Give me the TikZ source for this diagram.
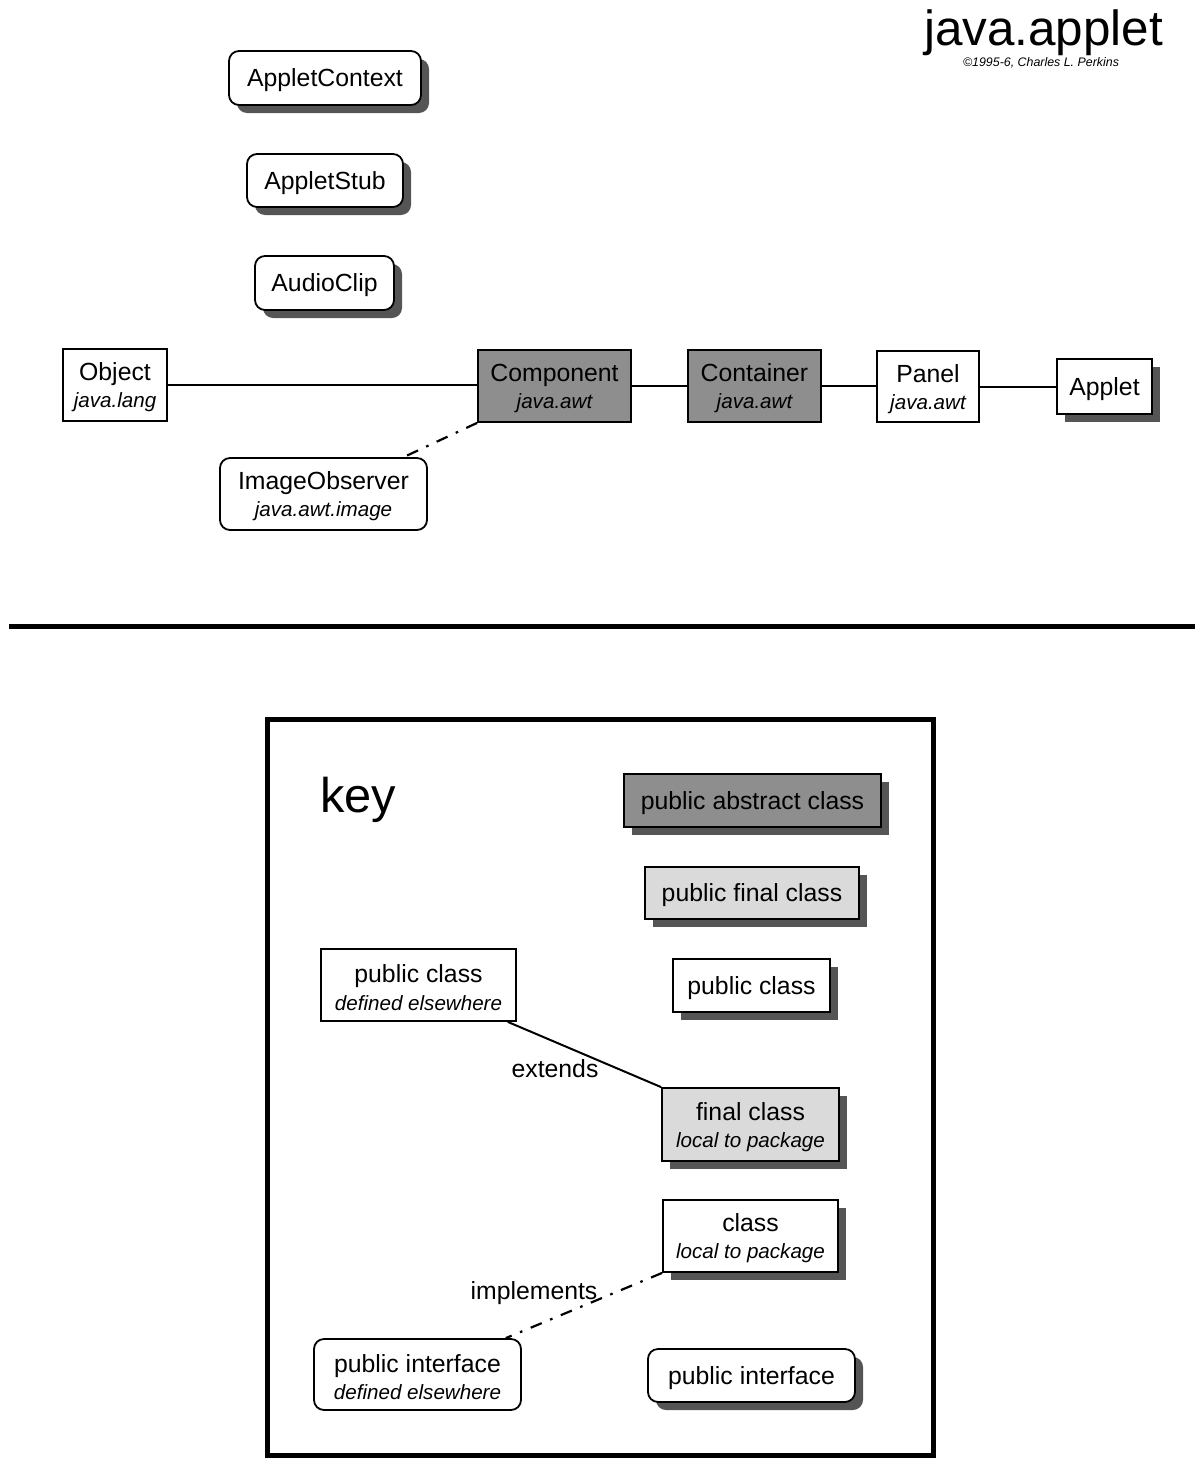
\documentclass[tikz,border=0pt]{standalone}
\usepackage{fontspec}
\setmainfont{Liberation Sans}
\usetikzlibrary{shadows,calc}
\definecolor{darkfill}{HTML}{8E8E8E}
\definecolor{lightfill}{HTML}{DADADA}
\definecolor{shade}{HTML}{555555}
\newcommand\mainfnt{\fontsize{12.4pt}{13.6pt}\selectfont}
\newcommand\subfnt{\fontsize{10.3pt}{13.6pt}\selectfont\itshape}
% strut that lowers box text slightly inside its frame
\newcommand\tstrut{\rule[-2.6pt]{0pt}{14.1pt}}
\tikzset{
  box/.style={draw=black, line width=0.9pt, inner sep=0pt, align=center, font=\mainfnt, text=black},
  cls/.style={box, rectangle},
  iface/.style={box, rounded corners=5pt},
  shadowed/.style={drop shadow={shadow xshift=4pt, shadow yshift=-4pt, fill=shade, opacity=1}},
  abstractfill/.style={fill=darkfill},
  finalfill/.style={fill=lightfill},
  plainfill/.style={fill=white},
  sz/.style n args={2}{minimum width=#1, minimum height=#2},
  link/.style={line width=1pt, draw=black},
  impl/.style={line width=1.1pt, draw=black, dash pattern=on 6pt off 4.5pt on 1.3pt off 4.5pt},
  lbl/.style={font=\mainfnt, inner sep=0pt, text=black}
}
\begin{document}
\begin{tikzpicture}[x=0.5pt, y=-0.5pt]
\useasboundingbox (0,0) rectangle (1200,1467);

% title
\node[font=\fontsize{24.7pt}{26pt}\selectfont, anchor=base, inner sep=0pt] (title) at (1043.5,46) {java.applet};
\node[font=\fontsize{6.2pt}{7pt}\selectfont\itshape, anchor=base, inner sep=0pt] (copy) at (1041,66.5) {\textcopyright 1995-6, Charles L. Perkins};

% interfaces of the package
\node[iface, plainfill, shadowed, sz={96pt}{27pt}] (ctx) at (325,78) {\tstrut AppletContext};
\node[iface, plainfill, shadowed, sz={78pt}{26.5pt}] (stub) at (325,180.5) {\tstrut AppletStub};
\node[iface, plainfill, shadowed, sz={69.5pt}{27pt}] (clip) at (324.5,283) {\tstrut AudioClip};

% class hierarchy
\node[cls, plainfill, sz={52pt}{36pt}] (object) at (115,385) {\tstrut Object\\{\subfnt java.lang}};
\node[cls, abstractfill, sz={76.5pt}{36pt}] (component) at (554.5,386) {\tstrut Component\\{\subfnt java.awt}};
\node[cls, abstractfill, sz={66.5pt}{36pt}] (container) at (754.5,386) {\tstrut Container\\{\subfnt java.awt}};
\node[cls, plainfill, sz={51pt}{35.5pt}] (panel) at (928,386.5) {\tstrut Panel\\{\subfnt java.awt}};
\node[cls, plainfill, shadowed, sz={47.5pt}{27.5pt}] (applet) at (1104.5,386.5) {\tstrut Applet};
\node[iface, plainfill, sz={103.5pt}{36pt}] (imgobs) at (323.5,494) {\tstrut ImageObserver\\{\subfnt java.awt.image}};

\draw[link] (object.east) -- (object.east -| component.west);
\draw[link] (component.east) -- (component.east -| container.west);
\draw[link] (container.east) -- (container.east -| panel.west);
\draw[link] (panel.east) -- (panel.east -| applet.west);
\draw[impl] (component.south west) -- ($(imgobs.north west)!0.884!(imgobs.north east)$);

% separator
\coordinate (sepL) at (9,626);
\coordinate (sepR) at (1195,626);
\draw[line width=2.5pt] (sepL) -- (sepR);

% key
\draw[line width=2.5pt] (267.5,719.5) rectangle (933,1455);
\node[font=\fontsize{24.4pt}{26pt}\selectfont, anchor=base west, inner sep=0pt] (keytitle) at (320,812) {key};

\node[cls, abstractfill, shadowed, sz={128.5pt}{26.5pt}] (kabs) at (752.5,800.5) {\tstrut public abstract class};
\node[cls, finalfill, shadowed, sz={107pt}{26pt}] (kfinal) at (752,893) {\tstrut public final class};
\node[cls, plainfill, shadowed, sz={78.5pt}{26.5pt}] (kpub) at (751.5,985.5) {\tstrut public class};
\node[cls, plainfill, sz={97.5pt}{36pt}] (kpubext) at (418.5,985) {\tstrut public class\\{\subfnt defined elsewhere}};
\node[cls, finalfill, shadowed, sz={88.5pt}{36.5pt}] (kfinloc) at (750.5,1124.5) {\tstrut final class\\{\subfnt local to package}};
\node[cls, plainfill, shadowed, sz={87.5pt}{36pt}] (kclsloc) at (750.5,1236) {\tstrut class\\{\subfnt local to package}};
\node[iface, plainfill, sz={103.5pt}{35.5pt}] (kifext) at (417.5,1374.5) {\tstrut public interface\\{\subfnt defined elsewhere}};
\node[iface, plainfill, shadowed, sz={103.5pt}{26.5pt}] (kif) at (751.5,1375.5) {\tstrut public interface};

\draw[link] ($(kpubext.south west)!0.954!(kpubext.south east)$) -- (kfinloc.north west);
\node[lbl, anchor=base] (extlbl) at (555,1077) {extends};

\draw[impl] (kclsloc.south west) -- ($(kifext.north west)!0.923!(kifext.north east)$);
\node[lbl, anchor=base] (impllbl) at (534,1299) {implements};
\end{tikzpicture}
\end{document}
